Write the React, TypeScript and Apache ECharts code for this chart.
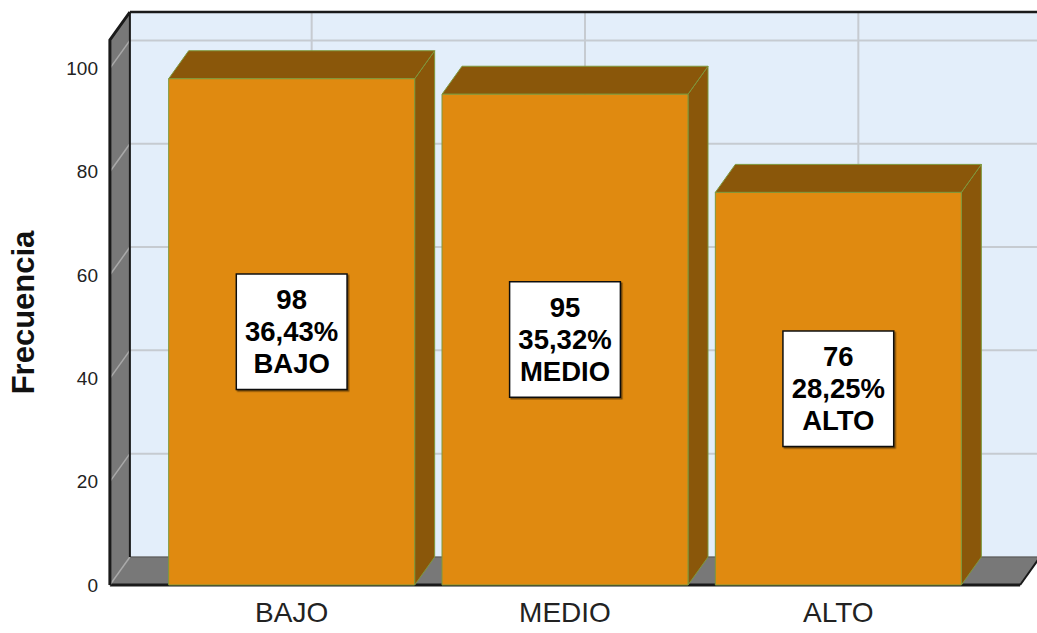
import React, { useEffect, useRef } from "react";
import * as echarts from "echarts";

const CATEGORIES = ["BAJO", "MEDIO", "ALTO"];
const FREQUENCIES = [98, 95, 76];
const Y_TICKS = [0, 20, 40, 60, 80, 100];
const Y_MAX = 105.5;
const Y_INTERVAL = 20;

const DX = 20;
const DY = -28;
const FONT = "'Liberation Sans', Arial, sans-serif";

const FRONT = "#E08A10";
const DARK = "#8A570A";
const EDGE = "#7E983C";
const WALL = "#E3EEFA";
const GREY = "#787878";
const GRID = "#C6CBD1";

export default function App() {
  const ref = useRef<HTMLDivElement>(null);
  useEffect(() => {
    document.body.style.margin = "0";
    const chart = echarts.init(ref.current!, undefined, { renderer: "svg" });
    const total = FREQUENCIES.reduce((a, b) => a + b, 0);

    const frameRender = (params: any, api: any) => {
      const band = api.size([1, 0])[0];
      const o = api.coord([0, 0]);
      const fl = o[0] - band * 0.665;
      const fr = api.coord([CATEGORIES.length - 1, 0])[0] + band * 0.665;
      const yF = o[1];
      const yTop = api.coord([0, Y_MAX])[1];
      const children: any[] = [];
      children.push({
        type: "rect",
        shape: { x: fl + DX, y: yTop + DY, width: fr - fl, height: yF - yTop },
        style: { fill: WALL },
      });
      Y_TICKS.forEach((t) => {
        const y = api.coord([0, t])[1];
        children.push({
          type: "line",
          shape: { x1: fl + DX, y1: y + DY, x2: fr + DX, y2: y + DY },
          style: { stroke: GRID, lineWidth: 2 },
        });
      });
      CATEGORIES.forEach((_, i) => {
        const x = api.coord([i, 0])[0];
        children.push({
          type: "line",
          shape: { x1: x + DX, y1: yTop + DY, x2: x + DX, y2: yF + DY },
          style: { stroke: GRID, lineWidth: 2 },
        });
      });
      children.push({
        type: "line",
        shape: { x1: fl + DX, y1: yTop + DY, x2: fr + DX + 10, y2: yTop + DY },
        style: { stroke: "#1a1a1a", lineWidth: 2.5 },
      });
      children.push({
        type: "polygon",
        shape: { points: [[fl, yF], [fr, yF], [fr + DX, yF + DY], [fl + DX, yF + DY]] },
        style: { fill: GREY, stroke: "#555", lineWidth: 1 },
      });
      children.push({
        type: "line",
        shape: { x1: fl, y1: yF, x2: fr, y2: yF },
        style: { stroke: "#1a1a1a", lineWidth: 3 },
      });
      children.push({
        type: "line",
        shape: { x1: fr, y1: yF, x2: fr + DX, y2: yF + DY },
        style: { stroke: "#1a1a1a", lineWidth: 2 },
      });
      children.push({
        type: "polygon",
        shape: { points: [[fl, yTop], [fl + DX, yTop + DY], [fl + DX, yF + DY], [fl, yF]] },
        style: { fill: GREY },
      });
      Y_TICKS.forEach((t) => {
        const y = api.coord([0, t])[1];
        children.push({
          type: "line",
          shape: { x1: fl, y1: y, x2: fl + DX, y2: y + DY },
          style: { stroke: "#A9A9A9", lineWidth: 1.5 },
        });
      });
      children.push({
        type: "polyline",
        shape: { points: [[fl, yF], [fl, yTop], [fl + DX, yTop + DY]] },
        style: { stroke: "#1a1a1a", lineWidth: 3, fill: "none" },
      });
      children.push({
        type: "line",
        shape: { x1: fl + DX, y1: yTop + DY, x2: fl + DX, y2: yF + DY },
        style: { stroke: "#1a1a1a", lineWidth: 2 },
      });
      return { type: "group", children };
    };

    const barRender = (params: any, api: any) => {
      const i = api.value(0);
      const v = api.value(1);
      const top = api.coord([i, v]);
      const base = api.coord([i, 0]);
      const band = api.size([1, 0])[0];
      const w = band * 0.9;
      const x0 = top[0] - w / 2;
      const x1 = top[0] + w / 2;
      const yT = top[1];
      const yB = base[1];
      const pct = ((v / total) * 100).toFixed(2).replace(".", ",");
      return {
        type: "group",
        children: [
          {
            type: "polygon",
            shape: { points: [[x1, yT], [x1 + DX, yT + DY], [x1 + DX, yB + DY], [x1, yB]] },
            style: { fill: DARK, stroke: EDGE, lineWidth: 1 },
          },
          {
            type: "polygon",
            shape: { points: [[x0, yT], [x0 + DX, yT + DY], [x1 + DX, yT + DY], [x1, yT]] },
            style: { fill: DARK, stroke: EDGE, lineWidth: 1 },
          },
          {
            type: "rect",
            shape: { x: x0, y: yT, width: w, height: yB - yT },
            style: { fill: FRONT, stroke: EDGE, lineWidth: 1 },
          },
          {
            type: "text",
            x: top[0],
            y: (yT + yB) / 2,
            style: {
              text: `${v}\n${pct}%\n${CATEGORIES[i]}`,
              fill: "#000",
              fontFamily: FONT,
              fontWeight: "bold",
              fontSize: 27.5,
              lineHeight: 32,
              align: "center",
              verticalAlign: "middle",
              backgroundColor: "#fff",
              borderColor: "#111",
              borderWidth: 1.5,
              padding: [9, 8],
              shadowColor: "rgba(0,0,0,0.45)",
              shadowOffsetX: 1.5,
              shadowOffsetY: 1.5,
              shadowBlur: 1,
            },
          },
        ],
      };
    };

    chart.setOption({
      animation: false,
      backgroundColor: "#fff",
      grid: { left: 154, right: 62, top: 40, bottom: 48 },
      xAxis: {
        type: "category",
        data: CATEGORIES,
        boundaryGap: true,
        axisLine: { show: false },
        axisTick: { show: false },
        splitLine: { show: false },
        axisLabel: { fontSize: 28, color: "#222", fontFamily: FONT, margin: 13 },
      },
      yAxis: {
        type: "value",
        min: 0,
        max: Y_MAX,
        interval: Y_INTERVAL,
        offset: 45,
        axisLine: { show: false },
        axisTick: { show: false },
        splitLine: { show: false },
        axisLabel: {
          fontSize: 19,
          color: "#222",
          fontFamily: FONT,
          margin: 12,
          showMaxLabel: false,
          formatter: (val: number) => (val % Y_INTERVAL === 0 ? String(val) : ""),
        },
        name: "Frecuencia",
        nameLocation: "middle",
        nameGap: 71,
        nameTextStyle: { fontSize: 31, fontWeight: "bold", color: "#111", fontFamily: FONT },
      },
      series: [
        {
          type: "custom",
          z: 1,
          silent: true,
          renderItem: frameRender,
          data: [[0, 0]],
          encode: { x: 0, y: 1 },
        },
        {
          type: "custom",
          z: 2,
          renderItem: barRender,
          data: FREQUENCIES.map((v, i) => [i, v]),
          encode: { x: 0, y: 1 },
        },
      ],
    });
    return () => chart.dispose();
  }, []);
  return <div ref={ref} style={{ width: 1037, height: 633 }} />;
}
